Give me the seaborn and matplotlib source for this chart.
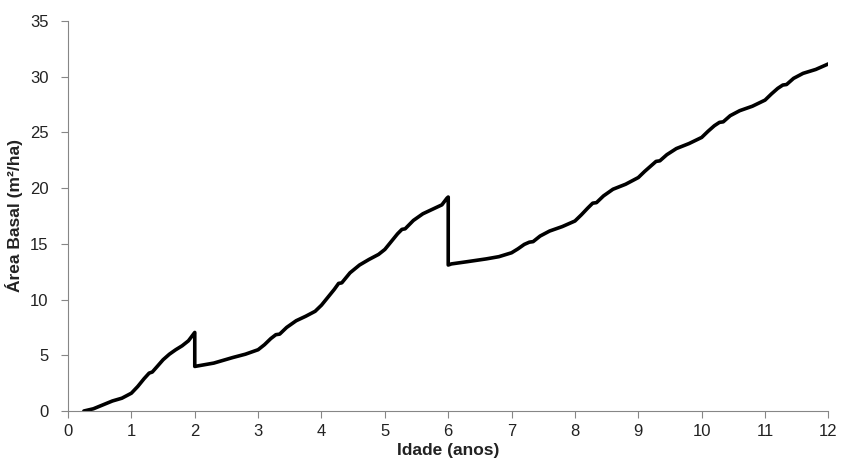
import pandas as pd
import matplotlib
matplotlib.use('Agg')
import matplotlib.pyplot as plt
import seaborn as sns

# values (age in years, basal area m²/ha)
idade = [0.25, 0.4, 0.55, 0.7, 0.85, 1.0, 1.1, 1.2, 1.28, 1.33, 1.4, 1.5, 1.6, 1.7, 1.8, 1.9, 1.98, 2.0, 2.0,
         2.05, 2.3, 2.6, 2.8, 3.0, 3.1, 3.2, 3.28, 3.34, 3.45, 3.6, 3.75, 3.9, 4.0, 4.1, 4.2, 4.27, 4.32,
         4.45, 4.6, 4.75, 4.9, 5.0, 5.1, 5.2, 5.27, 5.32, 5.45, 5.6, 5.75, 5.9, 5.98, 6.0, 6.0,
         6.05, 6.3, 6.6, 6.8, 7.0, 7.1, 7.2, 7.28, 7.34, 7.45, 7.6, 7.8, 8.0, 8.1, 8.2, 8.28, 8.34,
         8.45, 8.6, 8.8, 9.0, 9.1, 9.2, 9.28, 9.34, 9.45, 9.6, 9.8, 10.0, 10.1, 10.2, 10.28, 10.34,
         10.45, 10.6, 10.8, 11.0, 11.1, 11.2, 11.28, 11.34, 11.45, 11.6, 11.8, 12.0]
area_basal = [0.0, 0.2, 0.55, 0.9, 1.15, 1.6, 2.2, 2.9, 3.4, 3.5, 3.95, 4.6, 5.1, 5.5, 5.85, 6.3, 6.9, 7.05, 4.0,
              4.05, 4.3, 4.8, 5.1, 5.5, 5.95, 6.5, 6.85, 6.9, 7.5, 8.1, 8.5, 8.95, 9.5, 10.2, 10.9, 11.45, 11.5,
              12.4, 13.1, 13.6, 14.05, 14.5, 15.2, 15.9, 16.3, 16.35, 17.1, 17.7, 18.1, 18.5, 19.1, 19.2, 13.1,
              13.2, 13.4, 13.65, 13.85, 14.2, 14.55, 14.95, 15.15, 15.2, 15.7, 16.15, 16.55, 17.05, 17.6, 18.2, 18.65, 18.7,
              19.3, 19.9, 20.35, 20.95, 21.5, 22.0, 22.4, 22.45, 23.0, 23.55, 24.0, 24.55, 25.1, 25.6, 25.9, 25.95,
              26.5, 26.95, 27.35, 27.9, 28.45, 28.95, 29.25, 29.3, 29.85, 30.3, 30.65, 31.15]

x_ticks = list(range(0, 13))
y_ticks = list(range(0, 36, 5))

df = pd.DataFrame({'idade': idade, 'area': area_basal})

sns.set_style('white')
plt.rcParams['font.family'] = ['Liberation Sans', 'DejaVu Sans']

fig = plt.figure(figsize=(8.43, 4.66), dpi=100)
ax = fig.add_axes([0.0807, 0.118, 0.902, 0.837])

sns.lineplot(data=df, x='idade', y='area', estimator=None, sort=False,
             color='black', linewidth=2.6, ax=ax)
ax.lines[0].set_solid_joinstyle('round')
ax.lines[0].set_solid_capstyle('round')

ax.set_xlim(0, 12)
ax.set_ylim(0, 35)
ax.set_xticks(x_ticks)
ax.set_yticks(y_ticks)
ax.tick_params(axis='both', labelsize=12, labelcolor='#222222', length=5, width=0.8,
               color='#868686', direction='out', bottom=True, left=True)
ax.tick_params(axis='x', pad=4)
ax.tick_params(axis='y', pad=9)
for side in ['top', 'right']:
    ax.spines[side].set_visible(False)
for side in ['left', 'bottom']:
    ax.spines[side].set_color('#868686')
    ax.spines[side].set_linewidth(0.8)

ax.set_xlabel('Idade (anos)', fontsize=12.5, fontweight='bold', labelpad=3, color='#222222')
ax.set_ylabel('Área Basal (m²/ha)', fontsize=12.5, fontweight='bold', labelpad=5, color='#222222')

fig.savefig('out.png', dpi=100)
